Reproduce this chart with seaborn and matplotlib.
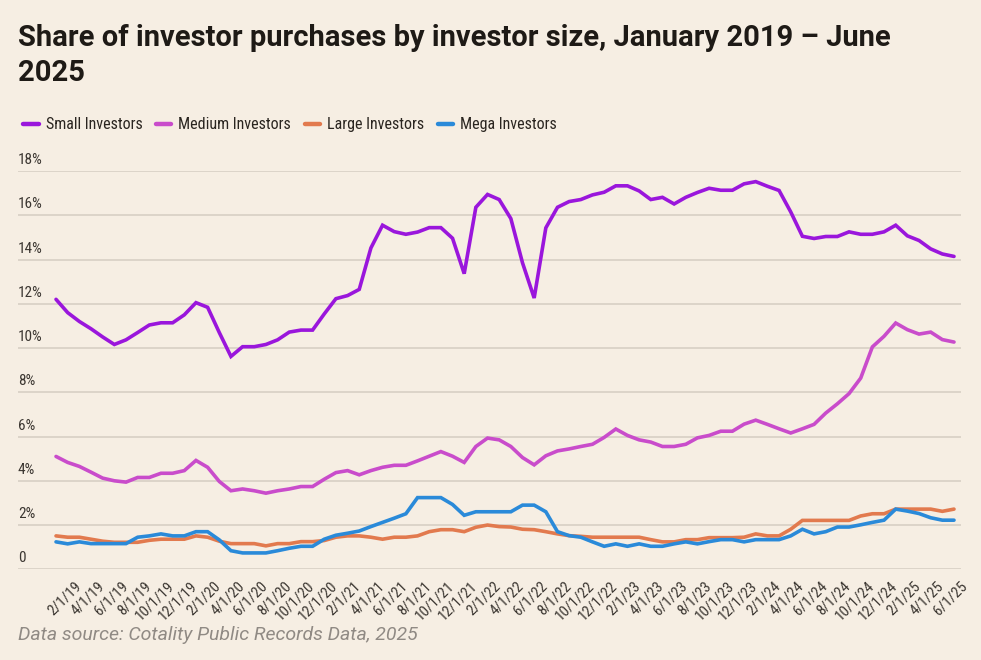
import numpy as np
import pandas as pd
import matplotlib
matplotlib.use("Agg")
import matplotlib.pyplot as plt
import matplotlib.transforms as mtransforms
from matplotlib.lines import Line2D
from matplotlib import font_manager
import seaborn as sns

# ---------------- data ----------------
months = pd.date_range("2019-01-01", "2025-06-01", freq="MS")

small = [12.2, 11.6, 11.2, 10.87, 10.5, 10.16, 10.37, 10.7, 11.04, 11.14, 11.14, 11.5,
         12.05, 11.84, 10.7, 9.62, 10.06, 10.06, 10.16, 10.37, 10.72, 10.81, 10.81, 11.54,
         12.23, 12.37, 12.65, 14.52, 15.55, 15.26, 15.14, 15.24, 15.44, 15.44, 14.96, 13.36,
         16.36, 16.94, 16.71, 15.85, 13.85, 12.26, 15.43, 16.36, 16.62, 16.71, 16.92, 17.04,
         17.33, 17.33, 17.1, 16.71, 16.81, 16.51, 16.81, 17.03, 17.22, 17.13, 17.13, 17.42,
         17.52, 17.31, 17.12, 16.15, 15.05, 14.95, 15.04, 15.04, 15.25, 15.14, 15.14, 15.25,
         15.55, 15.07, 14.86, 14.48, 14.25, 14.14]

medium = [5.10, 4.83, 4.65, 4.39, 4.12, 4.0, 3.94, 4.15, 4.15, 4.34, 4.34, 4.46,
          4.92, 4.61, 3.97, 3.55, 3.63, 3.55, 3.44, 3.55, 3.63, 3.74, 3.74, 4.07,
          4.37, 4.46, 4.27, 4.46, 4.61, 4.70, 4.70, 4.90, 5.11, 5.32, 5.11, 4.83,
          5.55, 5.93, 5.85, 5.55, 5.05, 4.72, 5.13, 5.35, 5.44, 5.55, 5.65, 5.96,
          6.34, 6.05, 5.85, 5.75, 5.55, 5.55, 5.65, 5.94, 6.05, 6.24, 6.24, 6.56,
          6.74, 6.55, 6.35, 6.16, 6.35, 6.55, 7.06, 7.48, 7.94, 8.64, 10.05, 10.53,
          11.13, 10.83, 10.63, 10.72, 10.38, 10.27]

large = [1.51, 1.45, 1.45, 1.36, 1.27, 1.22, 1.22, 1.22, 1.31, 1.36, 1.36, 1.36,
         1.51, 1.45, 1.27, 1.16, 1.16, 1.16, 1.06, 1.16, 1.16, 1.25, 1.25, 1.30,
         1.45, 1.51, 1.51, 1.45, 1.36, 1.45, 1.45, 1.51, 1.70, 1.79, 1.79, 1.70,
         1.90, 2.0, 1.93, 1.91, 1.81, 1.79, 1.70, 1.60, 1.52, 1.49, 1.45, 1.45,
         1.45, 1.45, 1.45, 1.34, 1.24, 1.24, 1.34, 1.34, 1.43, 1.43, 1.43, 1.45,
         1.60, 1.51, 1.51, 1.81, 2.21, 2.21, 2.21, 2.21, 2.21, 2.41, 2.51, 2.51,
         2.72, 2.72, 2.72, 2.72, 2.62, 2.72]

mega = [1.24, 1.15, 1.24, 1.16, 1.16, 1.16, 1.16, 1.45, 1.51, 1.60, 1.51, 1.51,
        1.70, 1.70, 1.33, 0.84, 0.74, 0.74, 0.74, 0.84, 0.95, 1.04, 1.04, 1.36,
        1.54, 1.63, 1.73, 1.93, 2.12, 2.31, 2.51, 3.24, 3.24, 3.24, 2.93, 2.44,
        2.60, 2.60, 2.60, 2.60, 2.90, 2.90, 2.60, 1.70, 1.52, 1.45, 1.24, 1.04,
        1.15, 1.04, 1.15, 1.04, 1.04, 1.15, 1.24, 1.15, 1.25, 1.34, 1.34, 1.24,
        1.34, 1.34, 1.34, 1.51, 1.81, 1.60, 1.70, 1.91, 1.91, 2.01, 2.12, 2.22,
        2.72, 2.63, 2.52, 2.33, 2.22, 2.22]

series_names = ["Small Investors", "Medium Investors", "Large Investors", "Mega Investors"]
series_colors = ["#9a16dc", "#c94ccb", "#e27a4e", "#2a8ad9"]
y_ticks = [0, 2, 4, 6, 8, 10, 12, 14, 16, 18]
y_tick_labels = ["0", "2%", "4%", "6%", "8%", "10%", "12%", "14%", "16%", "18%"]

title = "Share of investor purchases by investor size, January 2019 – June\n2025"
source = "Data source: Cotality Public Records Data, 2025"

# ---------------- frame ----------------
idx = np.arange(len(months))
df = pd.concat([
    pd.DataFrame({"i": idx, "value": vals, "series": name})
    for name, vals in zip(series_names, [small, medium, large, mega])
])

BG = "#f6eee3"
GRID = "#dcd4c9"
TXT = "#1e1a16"

installed = {f.name for f in font_manager.fontManager.ttflist}
COND = "Roboto"
for cand in ["Roboto Condensed", "IBM Plex Sans Condensed", "Archivo Narrow", "Barlow Semi Condensed"]:
    if cand in installed:
        COND = cand
        break

sns.set_theme(style="white")
plt.rcParams["font.family"] = [COND, "DejaVu Sans"]

W, H = 981, 660
fig = plt.figure(figsize=(W / 100, H / 100), dpi=100, facecolor=BG)
ax = fig.add_axes([18 / W, (H - 569.3) / H, (961 - 18) / W, (569.3 - 171) / H])
ax.set_facecolor(BG)

sns.lineplot(data=df, x="i", y="value", hue="series", hue_order=series_names,
             palette=series_colors, linewidth=2.6, ax=ax, legend=False,
             zorder=3)
for ln in ax.lines:
    ln.set_solid_joinstyle("miter")

ax.set_xlim(-3.26, 77.6)
ax.set_ylim(0, 18)
for s in ax.spines.values():
    s.set_visible(False)

ax.set_yticks(y_ticks)
ax.set_yticklabels(y_tick_labels)
ax.yaxis.grid(True, color=GRID, linewidth=1.4)
ax.set_axisbelow(True)
ax.tick_params(axis="y", length=0, pad=0, labelsize=11, labelcolor="#3b3631")
for lab in ax.get_yticklabels():
    lab.set_horizontalalignment("left")
    lab.set_verticalalignment("bottom")
    lab.set_transform(lab.get_transform() + mtransforms.ScaledTranslation(0, 0.04, fig.dpi_scale_trans))

tick_idx = idx[1::2]
tick_lab = [f"{m.month}/1/{m.year % 100}" for m in months[1::2]]
ax.set_xticks(tick_idx)
ax.set_xticklabels(tick_lab, rotation=45, ha="right", rotation_mode="anchor")
ax.tick_params(axis="x", length=0, pad=7, labelsize=10.8, labelcolor="#3b3631")
for lab in ax.get_xticklabels():
    lab.set_transform(lab.get_transform() + mtransforms.ScaledTranslation(0.06, 0, fig.dpi_scale_trans))
ax.set_xlabel("")
ax.set_ylabel("")

# title
fig.text(18 / W, 1 - 24 / H, title, ha="left", va="top", fontsize=21,
         fontweight="bold", color=TXT, linespacing=1.3, family=["Roboto", "DejaVu Sans"])

# legend
handles = [Line2D([0], [0], color=c, lw=3.2) for c in series_colors]
fig.legend(handles, series_names, loc="upper left", bbox_to_anchor=(9 / W, 1 - 103 / H),
           ncol=4, frameon=False, handlelength=0.95, handletextpad=0.45,
           columnspacing=0.85, fontsize=11.5, labelcolor="#2a2520")

# source
fig.text(18 / W, 1 - 635 / H, source, ha="left", va="center", fontsize=14,
         style="italic", color="#908a84",
         family=["Roboto", "DejaVu Sans"])

fig.savefig("out.png", dpi=100, facecolor=BG)
